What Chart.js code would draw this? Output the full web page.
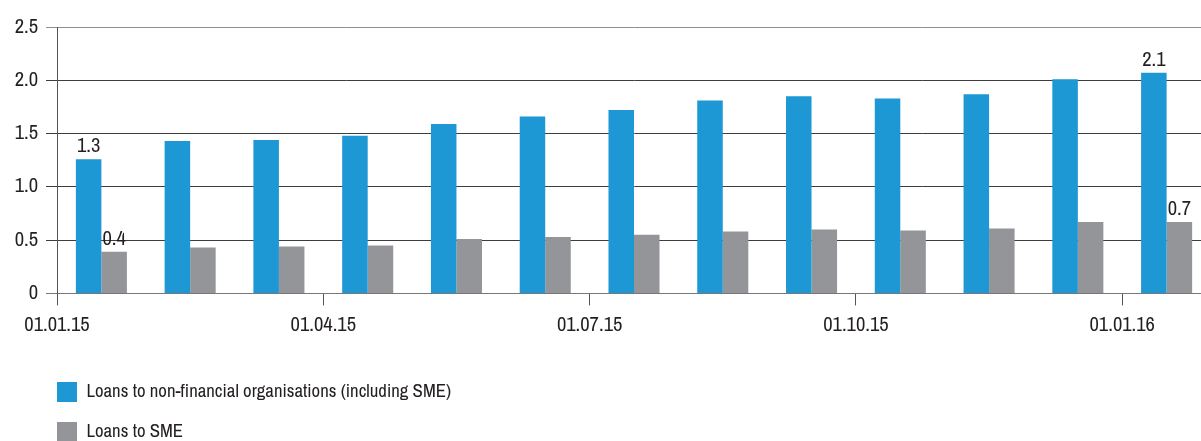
<!DOCTYPE html>
<html><head><meta charset="utf-8">
<script src="https://cdn.jsdelivr.net/npm/chart.js@4/dist/chart.umd.min.js"></script>
<style>
html,body{margin:0;padding:0;overflow:hidden;background:#fff;width:1201px;height:441px}
#wrap{position:relative;width:1211px;height:441px}
</style>
</head><body><div id="wrap"><canvas id="c"></canvas></div>
<script>
const categories = ['01.01.15','01.02.15','01.03.15','01.04.15','01.05.15','01.06.15','01.07.15','01.08.15','01.09.15','01.10.15','01.11.15','01.12.15','01.01.16'];
const nonFinancialLoans = [1.26,1.43,1.44,1.48,1.59,1.66,1.72,1.81,1.85,1.83,1.87,2.01,2.07];
const smeLoans = [0.39,0.43,0.44,0.45,0.51,0.53,0.55,0.58,0.60,0.59,0.61,0.67,0.67];
const xTickLabels = ['01.01.15','01.04.15','01.07.15','01.10.15','01.01.16'];
const labelledPoints = [0, 12];
const seriesNames = ['Loans to non-financial organisations (including SME)','Loans to SME'];

const FONT = "'Archivo Narrow', 'Roboto Condensed', sans-serif";
const FS = 20.5;
const LFS = 18.8;
const TEXT = '#231f20';
Chart.defaults.font.family = FONT;
Chart.defaults.color = TEXT;

const legendPlacer = {
  id: 'legendPlacer',
  afterLayout(chart) {
    const lg = chart.legend;
    if (!lg) return;
    lg.left = 37; lg.right = 520; lg.top = 362; lg.bottom = 462;
    lg.width = lg.right - lg.left; lg.height = lg.bottom - lg.top;
  }
};

const valueLabels = {
  id: 'valueLabels',
  afterDatasetsDraw(chart) {
    const ctx = chart.ctx;
    ctx.save();
    ctx.font = FS + 'px ' + FONT;
    ctx.fillStyle = TEXT;
    ctx.textAlign = 'center';
    ctx.textBaseline = 'alphabetic';
    chart.data.datasets.forEach((ds, di) => {
      const meta = chart.getDatasetMeta(di);
      labelledPoints.forEach(i => {
        const bar = meta.data[i];
        ctx.fillText(ds.data[i].toFixed(1), bar.x, bar.y - 7);
      });
    });
    ctx.restore();
  }
};

new Chart(document.getElementById('c'), {
  type: 'bar',
  data: {
    labels: categories,
    datasets: [
      { label: seriesNames[0], data: nonFinancialLoans, backgroundColor: '#1d98d5', borderWidth: 0,
        categoryPercentage: 0.575, barPercentage: 1 },
      { label: seriesNames[1], data: smeLoans, backgroundColor: '#949599', borderWidth: 0,
        categoryPercentage: 0.575, barPercentage: 1 }
    ]
  },
  options: {
    responsive: true,
    maintainAspectRatio: false,
    animation: false,
    devicePixelRatio: 1,
    layout: { padding: { left: 0, right: 0, top: 27, bottom: 45 } },
    plugins: {
      tooltip: { enabled: false },
      legend: {
        position: 'bottom',
        align: 'start',
        labels: { boxWidth: 20, boxHeight: 20, padding: 20, color: TEXT, font: { size: LFS, family: FONT } }
      }
    },
    scales: {
      x: { type: 'category', offset: true, display: false, grid: { offset: true } },
      xt: {
        type: 'linear', position: 'bottom', min: 0, max: categories.length,
        offset: false,
        afterBuildTicks: s => { s.ticks = xTickLabels.map(l => ({ value: categories.indexOf(l) })); },
        ticks: { callback: v => categories[v], font: { size: FS, family: FONT }, color: TEXT, padding: 8, maxRotation: 0, autoSkip: false },
        grid: { offset: false, drawOnChartArea: false, drawTicks: true, tickLength: 12, color: '#555' },
        border: { display: true, color: '#777', width: 1 }
      },
      y: {
        min: 0, max: 2.5,
        afterFit: s => { s.width = 57; },
        ticks: { stepSize: 0.5, callback: v => v === 0 ? '0' : v.toFixed(1), padding: 8, font: { size: FS, family: FONT }, color: TEXT },
        grid: {
          color: c => (c.tick && c.tick.value === 2.5) ? '#8f8f8f' : ((c.tick && c.tick.value === 0) ? '#777' : '#3d3d3d'),
          tickLength: 11, drawTicks: true
        },
        border: { display: true, color: '#555', width: 1 }
      }
    }
  },
  plugins: [legendPlacer, valueLabels]
});
</script>
</body></html>
